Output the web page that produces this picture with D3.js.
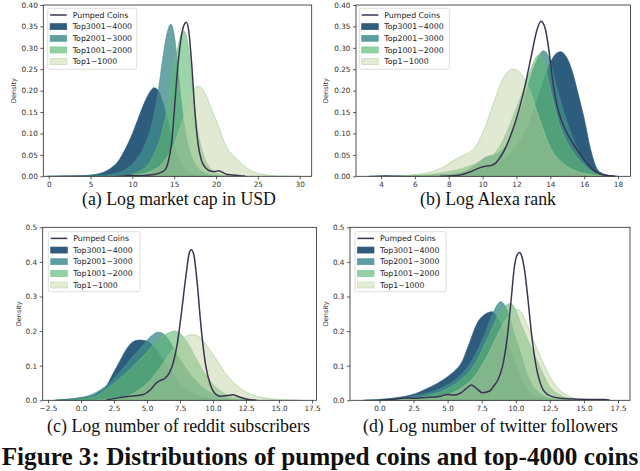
<!DOCTYPE html>
<html><head><meta charset="utf-8">
<script src="https://cdn.jsdelivr.net/npm/d3@7"></script>
<style>body{margin:0;background:#fff}svg{display:block}</style>
</head><body><svg id="c" width="640" height="471"></svg>
<script>
// ---------------- DATA ----------------
const seriesNames = ["Pumped Coins","Top3001~4000","Top2001~3000","Top1001~2000","Top1~1000"];
const subtitles = ["(a) Log market cap in USD","(b) Log Alexa rank","(c) Log number of reddit subscribers","(d) Log number of twitter followers"];
const caption = "Figure 3: Distributions of pumped coins and top-4000 coins";
const yLabel = "Density";

const xTicksA = [0,5,10,15,20,25,30];
const xTicksB = [4,6,8,10,12,14,16,18];
const xTicksC = [-2.5,0,2.5,5,7.5,10,12.5,15,17.5];
const xTicksD = [0,2.5,5,7.5,10,12.5,15,17.5];
const yTicksAB = [0,0.05,0.10,0.15,0.20,0.25,0.30,0.35,0.40];
const yTicksCD = [0,0.1,0.2,0.3,0.4,0.5];

// (a) log market cap
const aPumped = [[8.0,0],[9.0,0.001],[9.6,0.0025],[10.3,0.001],[11.5,0.002],[12.5,0.004],[13.3,0.008],[13.9,0.015],[14.3,0.035],[14.7,0.08],[15.0,0.15],[15.4,0.25],[15.8,0.32],[16.15,0.352],[16.45,0.36],[16.75,0.338],[17.1,0.26],[17.5,0.145],[17.9,0.07],[18.3,0.035],[18.8,0.019],[19.4,0.012],[19.9,0.011],[20.3,0.013],[20.7,0.01],[21.2,0.005],[22,0.003],[23,0.001],[23.5,0]];
const aTop3001 = [[-0.2,0],[1,0.0005],[3,0.001],[4.5,0.002],[5.5,0.004],[6.5,0.009],[7.5,0.02],[8.3,0.035],[9,0.058],[9.8,0.09],[10.6,0.13],[11.4,0.17],[12.1,0.197],[12.6,0.207],[13.1,0.2],[13.6,0.175],[14.1,0.14],[14.6,0.1],[15.1,0.065],[15.6,0.038],[16.2,0.018],[17,0.007],[18,0.002],[19.5,0]];
const aTop2001 = [[3,0],[6,0.002],[7.5,0.005],[8.5,0.01],[9.5,0.02],[10.5,0.04],[11.3,0.065],[12,0.1],[12.6,0.145],[13.1,0.2],[13.6,0.27],[14.1,0.33],[14.6,0.355],[15.0,0.33],[15.4,0.26],[15.8,0.18],[16.2,0.12],[16.7,0.07],[17.2,0.04],[17.8,0.02],[18.5,0.009],[19.5,0.003],[21,0]];
const aTop1001 = [[7,0],[9,0.002],[10,0.005],[11,0.013],[12,0.03],[12.8,0.06],[13.5,0.1],[14.1,0.15],[14.6,0.21],[15.1,0.27],[15.6,0.315],[16.1,0.34],[16.5,0.325],[16.9,0.27],[17.3,0.19],[17.7,0.12],[18.2,0.07],[18.8,0.035],[19.5,0.015],[20.5,0.005],[22,0]];
const aTop1 = [[8,0],[10,0.002],[11,0.005],[12,0.01],[13,0.02],[14,0.04],[15,0.075],[16,0.13],[16.8,0.18],[17.4,0.205],[17.9,0.21],[18.4,0.203],[19,0.18],[19.6,0.15],[20.1,0.128],[20.6,0.1],[21.1,0.075],[21.6,0.058],[22.2,0.046],[22.8,0.034],[23.5,0.022],[24.3,0.012],[25.2,0.006],[26.5,0.002],[28,0.0005],[30,0]];

// (b) log Alexa rank
const bPumped = [[7.5,0],[8.5,0.002],[9.25,0.01],[9.7,0.018],[10.1,0.023],[10.5,0.025],[10.8,0.032],[11.1,0.048],[11.4,0.07],[11.7,0.1],[12.0,0.135],[12.5,0.21],[12.9,0.285],[13.2,0.34],[13.45,0.362],[13.7,0.345],[13.9,0.3],[14.17,0.215],[14.4,0.165],[14.66,0.13],[15.0,0.1],[15.35,0.076],[15.7,0.055],[16.0,0.038],[16.4,0.02],[16.7,0.01],[17.2,0.003],[17.8,0]];
const bTop3001 = [[3.3,0],[3.9,0.001],[4.3,0.002],[4.8,0.001],[6,0.001],[7,0.002],[8,0.004],[9,0.008],[10,0.016],[11,0.032],[12,0.07],[12.8,0.13],[13.4,0.2],[13.9,0.255],[14.3,0.285],[14.6,0.291],[15.0,0.275],[15.3,0.245],[15.6,0.2],[16.0,0.135],[16.4,0.06],[16.7,0.022],[17.0,0.008],[17.5,0.002],[18,0]];
const bTop2001 = [[5,0],[7,0.002],[8,0.004],[9,0.012],[9.6,0.028],[10.2,0.045],[10.8,0.052],[11.3,0.068],[11.8,0.105],[12.3,0.16],[12.8,0.225],[13.2,0.27],[13.6,0.293],[13.95,0.275],[14.37,0.209],[14.96,0.131],[15.55,0.069],[16.1,0.03],[16.6,0.01],[17.2,0.002],[17.8,0]];
const bTop1001 = [[5.5,0],[7,0.005],[8,0.011],[9,0.021],[10,0.037],[10.8,0.058],[11.4,0.1],[11.9,0.15],[12.4,0.2],[12.9,0.255],[13.3,0.283],[13.6,0.27],[13.97,0.209],[14.46,0.131],[15.15,0.069],[15.9,0.03],[16.5,0.01],[17.2,0.002],[17.8,0]];
const bTop1 = [[5,0],[6,0.004],[6.9,0.01],[7.7,0.022],[8.2,0.035],[8.7,0.046],[9.1,0.053],[9.5,0.065],[10.0,0.1],[10.6,0.165],[11.2,0.228],[11.8,0.25],[12.2,0.243],[12.7,0.209],[13.38,0.131],[13.97,0.069],[14.76,0.03],[15.7,0.01],[16.5,0.003],[17.5,0]];

// (c) log reddit subscribers
const cPumped = [[1.9,0],[2.8,0.007],[3.55,0.011],[4.3,0.014],[4.8,0.018],[5.3,0.032],[5.7,0.05],[6.05,0.058],[6.35,0.063],[6.7,0.08],[7.0,0.11],[7.3,0.165],[7.6,0.25],[7.95,0.36],[8.2,0.425],[8.35,0.435],[8.55,0.42],[8.8,0.34],[9.1,0.21],[9.45,0.1],[9.8,0.045],[10.2,0.018],[10.6,0.012],[11.1,0.014],[11.5,0.016],[11.9,0.011],[12.5,0.004],[13.3,0]];
const cTop3001 = [[-1.9,0],[-1,0.003],[0,0.007],[0.8,0.012],[1.4,0.025],[1.9,0.04],[2.4,0.075],[2.9,0.11],[3.4,0.145],[3.9,0.168],[4.4,0.174],[4.9,0.172],[5.4,0.16],[6,0.13],[6.6,0.095],[7.2,0.062],[7.8,0.037],[8.5,0.02],[9.3,0.009],[10.3,0.003],[11.5,0]];
const cTop2001 = [[-2,0],[-1,0.003],[0,0.008],[1,0.02],[2,0.045],[3,0.085],[4,0.13],[4.7,0.16],[5.3,0.185],[5.85,0.197],[6.3,0.19],[6.8,0.165],[7.3,0.13],[7.9,0.095],[8.5,0.065],[9.2,0.038],[10,0.018],[11,0.006],[12,0.002],[13,0]];
const cTop1001 = [[-1,0],[0,0.003],[1,0.01],[2,0.035],[3,0.065],[4,0.1],[5,0.14],[5.8,0.172],[6.5,0.192],[7.1,0.2],[7.6,0.19],[8.1,0.165],[8.8,0.115],[9.6,0.065],[10.4,0.032],[11.2,0.014],[12.2,0.005],[13.5,0]];
const cTop1 = [[1,0],[2.5,0.004],[3.5,0.012],[4.4,0.03],[5.3,0.06],[6.2,0.105],[7,0.15],[7.7,0.178],[8.4,0.19],[9.0,0.182],[9.6,0.155],[10.3,0.115],[11,0.075],[11.8,0.043],[12.6,0.022],[13.5,0.01],[14.5,0.004],[15.7,0.001],[16.5,0]];

// (d) log twitter followers
const dPumped = [[0,0],[1,0.003],[1.8,0.007],[2.5,0.006],[3.5,0.008],[4.5,0.012],[5.0,0.017],[5.5,0.015],[6.0,0.022],[6.4,0.035],[6.75,0.044],[7.1,0.035],[7.55,0.022],[8.05,0.026],[8.4,0.042],[8.7,0.06],[9.04,0.1],[9.4,0.19],[9.66,0.29],[9.9,0.386],[10.1,0.42],[10.28,0.427],[10.45,0.415],[10.65,0.375],[10.9,0.29],[11.15,0.194],[11.5,0.097],[11.9,0.039],[12.4,0.015],[13.26,0.006],[14.75,0.003],[16.5,0.002],[16.9,0]];
const dTop3001 = [[-1.2,0],[-0.5,0.001],[0.5,0.004],[1.5,0.009],[2.3,0.015],[3,0.025],[3.5,0.034],[4.3,0.05],[5,0.068],[5.6,0.088],[6,0.107],[6.5,0.155],[7.2,0.225],[7.8,0.25],[8.25,0.256],[8.7,0.235],[9.1,0.2],[9.5,0.155],[10,0.1],[10.5,0.055],[11,0.025],[11.8,0.008],[12.8,0.002],[14,0]];
const dTop2001 = [[-1,0],[0,0.002],[1,0.005],[2,0.009],[3,0.016],[4,0.027],[5,0.045],[6,0.075],[7,0.13],[7.7,0.19],[8.3,0.25],[8.9,0.285],[9.25,0.27],[9.53,0.241],[9.9,0.19],[10.28,0.145],[10.9,0.068],[11.5,0.03],[12.2,0.01],[13,0.002],[14,0]];
const dTop1001 = [[0,0],[1,0.002],[2,0.004],[3,0.009],[4,0.018],[5,0.034],[6,0.06],[7,0.105],[8,0.185],[8.7,0.245],[9.3,0.275],[9.6,0.28],[9.95,0.265],[10.28,0.231],[11.0,0.164],[11.77,0.097],[12.5,0.039],[13.26,0.015],[14.0,0.004],[15,0]];
const dTop1 = [[1,0],[2,0.002],[3,0.004],[4,0.008],[5,0.016],[6,0.035],[7,0.07],[8,0.135],[8.8,0.2],[9.5,0.245],[10.05,0.262],[10.4,0.255],[10.78,0.223],[11.5,0.154],[12.26,0.087],[13.0,0.039],[13.75,0.015],[14.5,0.004],[15.5,0]];

// ---------------- STYLE / LAYOUT ----------------
const fillStyles = [
  {fill:"#2e5c7d", op:1.0,  stroke:"#2e5c7d", sop:1},
  {fill:"rgb(64,140,141)", op:0.78, stroke:"rgb(64,140,141)", sop:0.9},
  {fill:"rgb(93,183,112)", op:0.6, stroke:"rgb(110,190,130)", sop:0.8},
  {fill:"rgb(188,206,157)", op:0.45, stroke:"rgb(160,210,155)", sop:0.9}
];
const legendPatch = ["#2f5b7c","#5e9ea0","#91d1a4","#e3ebd4"];
const legendEdge = ["#2f5b7c","#5e9ea0","#7cc892","#bfdfb3"];
const lineColor = "#3b3451";

const panels = [
  {left:43.3, right:311.7, top:5, bottom:176.3, xdom:[-0.65,31.44], ydom:[0,0.40], xt:xTicksA, xf:d3.format("d"), yt:yTicksAB, yf:d3.format(".2f"),
   series:[aTop3001,aTop2001,aTop1001,aTop1], pumped:aPumped, leg:{x:47.7,y:8.3,w:89,h:61}, lab:-29.6, sub:{x:179,y:205,w:194}},
  {left:356, right:630.5, top:5, bottom:176.3, xdom:[2.52,18.74], ydom:[0,0.40], xt:xTicksB, xf:d3.format("d"), yt:yTicksAB, yf:d3.format(".2f"),
   series:[bTop3001,bTop2001,bTop1001,bTop1], pumped:bPumped, leg:{x:359.3,y:8.3,w:90,h:61}, lab:-30, sub:{x:488,y:205,w:136}},
  {left:42.7, right:316.5, top:227.3, bottom:400.3, xdom:[-2.9,17.84], ydom:[0,0.5], xt:xTicksC, xf:d3.format(".1f"), yt:yTicksCD, yf:d3.format(".1f"),
   series:[cTop3001,cTop2001,cTop1001,cTop1], pumped:cPumped, leg:{x:48.3,y:231.7,w:91.7,h:60}, lab:-24.4, sub:{x:178.5,y:431.5,w:263}},
  {left:350, right:630, top:227.3, bottom:400.3, xdom:[-2.16,18.38], ydom:[0,0.5], xt:xTicksD, xf:d3.format(".1f"), yt:yTicksCD, yf:d3.format(".1f"),
   series:[dTop3001,dTop2001,dTop1001,dTop1], pumped:dPumped, leg:{x:355,y:231.7,w:91,h:60}, lab:-24, sub:{x:490.5,y:431.5,w:255}}
];

const svg = d3.select("#c");
const defs = svg.append("defs");
const SANS = "'DejaVu Sans', sans-serif";
const SERIF = "'Liberation Serif', 'Times New Roman', serif";

function fitFont(t, target, base){
  const w = t.node().getComputedTextLength();
  t.style("font-size", (base*target/w).toFixed(2)+"px");
}

panels.forEach((p,i)=>{
  const x = d3.scaleLinear().domain(p.xdom).range([p.left,p.right]);
  const y = d3.scaleLinear().domain(p.ydom).range([p.bottom,p.top]);
  defs.append("clipPath").attr("id","clip"+i).append("rect")
    .attr("x",p.left).attr("y",p.top).attr("width",p.right-p.left).attr("height",p.bottom-p.top);
  const g = svg.append("g");
  const plot = g.append("g").attr("clip-path","url(#clip"+i+")");
  const area = d3.area().curve(d3.curveMonotoneX).x(d=>x(d[0])).y0(y(0)).y1(d=>y(d[1]));
  const line = d3.line().curve(d3.curveMonotoneX).x(d=>x(d[0])).y(d=>y(d[1]));
  p.series.forEach((s,k)=>{
    const st = fillStyles[k];
    plot.append("path").attr("d",area(s)).attr("fill",st.fill).attr("fill-opacity",st.op)
      .attr("stroke",st.stroke).attr("stroke-opacity",st.sop).attr("stroke-width",0.7);
  });
  plot.append("path").attr("d",line(p.pumped)).attr("fill","none").attr("stroke",lineColor).attr("stroke-width",1.5);

  // axes
  const xa = g.append("g").attr("transform",`translate(0,${p.bottom})`)
    .call(d3.axisBottom(x).tickValues(p.xt).tickFormat(p.xf).tickSize(3).tickPadding(2.5));
  const ya = g.append("g").attr("transform",`translate(${p.left},0)`)
    .call(d3.axisLeft(y).tickValues(p.yt).tickFormat(p.yf).tickSize(3).tickPadding(2.5));
  [xa,ya].forEach(a=>{
    a.select(".domain").remove();
    a.selectAll("line").attr("stroke","#333").attr("stroke-width",0.8);
    a.selectAll("text").attr("fill","#333").style("font-family",SANS).style("font-size","7.3px");
  });
  g.append("rect").attr("x",p.left).attr("y",p.top).attr("width",p.right-p.left).attr("height",p.bottom-p.top)
    .attr("fill","none").attr("stroke","#262626").attr("stroke-width",0.8);
  // y label
  g.append("text").attr("transform",`translate(${p.left+p.lab},${(p.top+p.bottom)/2}) rotate(-90)`)
    .attr("text-anchor","middle").attr("dy","0.35em").style("font-family",SANS).style("font-size","6.6px")
    .attr("fill","#333").text(yLabel);

  // legend
  const L = p.leg;
  const lg = g.append("g");
  lg.append("rect").attr("x",L.x).attr("y",L.y).attr("width",L.w).attr("height",L.h).attr("rx",2)
    .attr("fill","#fff").attr("fill-opacity",0.85).attr("stroke","#d6d6d6").attr("stroke-width",0.8);
  const rowY = k => L.y + 6.7 + k*11.65;
  seriesNames.forEach((name,k)=>{
    const cy = rowY(k);
    if(k===0){
      lg.append("line").attr("x1",L.x+2.4).attr("x2",L.x+19).attr("y1",cy).attr("y2",cy)
        .attr("stroke",lineColor).attr("stroke-width",1.5);
    } else {
      lg.append("rect").attr("x",L.x+2.4).attr("y",cy-3).attr("width",16.6).attr("height",6)
        .attr("fill",legendPatch[k-1]).attr("stroke",legendEdge[k-1]).attr("stroke-width",0.7);
    }
    lg.append("text").attr("x",L.x+25).attr("y",cy).attr("dy","0.35em")
      .style("font-family",SANS).style("font-size","7.8px").attr("fill","#222").text(name);
  });

  // subtitle
  const st = svg.append("text").attr("x",p.sub.x).attr("y",p.sub.y).attr("text-anchor","middle")
    .style("font-family",SERIF).style("font-size","16px").attr("fill","#111").text(subtitles[i]);
  fitFont(st, p.sub.w, 16);
});

const cap = svg.append("text").attr("x",320).attr("y",465).attr("text-anchor","middle")
  .style("font-family",SERIF).style("font-weight","bold").style("font-size","21px").attr("fill","#111").text(caption);
fitFont(cap, 637, 21);
</script></body></html>
